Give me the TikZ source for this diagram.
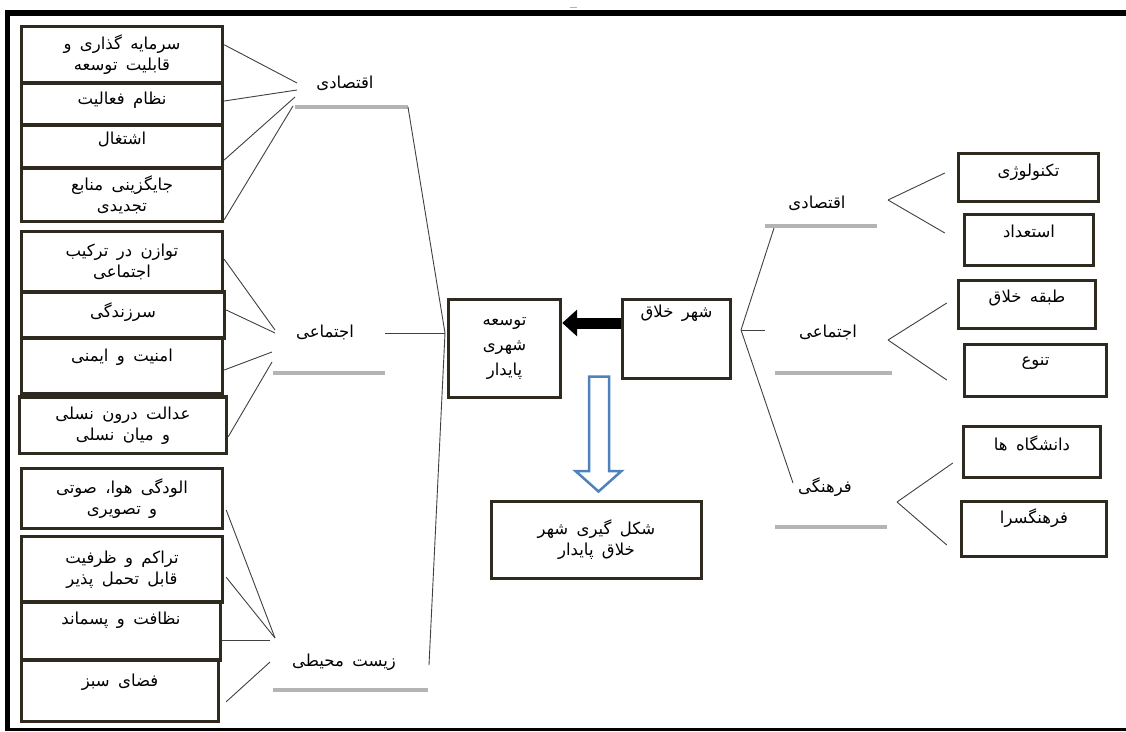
\documentclass[tikz,border=0pt]{standalone}
\usepackage{fontspec}
\newfontfamily\fafont[Script=Arabic,WordSpace=1.6]{DejaVu Sans}
\TeXXeTstate=1
\usetikzlibrary{arrows.meta}
\definecolor{boxline}{HTML}{2E2A20}
\definecolor{bargray}{HTML}{B4B4B4}
\definecolor{arrowblue}{HTML}{4F81BD}
\newcommand{\fatxt}[1]{{\fafont\beginR #1\endR}}
\tikzset{
  box/.style={draw=boxline, line width=3.4pt, fill=white, inner sep=2pt, align=center, font=\fontsize{16.5}{21}\selectfont},
  cat/.style={inner sep=1pt, font=\fontsize{16.5}{19}\selectfont},
  bar/.style={draw=bargray, line width=3.5pt},
  wire/.style={draw=black!75, line width=0.9pt},
}
\begin{document}
\begin{tikzpicture}[x=1pt,y=-1pt]
   \useasboundingbox (0,0) rectangle (1126,731);
   \draw[line width=6pt] (5,13) -- (1126,13);
   \draw[line width=5pt] (7.5,10.5) -- (7.5,731);
   \draw[line width=2.5pt] (5,729.5) -- (1126,729.5);
   \draw[gray!60, line width=1pt] (570,7) -- (577,7);

   % left column
   \node[box, minimum width=201, minimum height=56.5] (inv) at (122,54.75) {\fatxt{سرمایه گذاری و}\\\fatxt{قابلیت توسعه}};
   \node[box, minimum width=201, minimum height=42, text depth=12.5] (act) at (122,104) {\fatxt{نظام فعالیت}};
   \node[box, minimum width=201, minimum height=43, text depth=17.5] (job) at (122,146.5) {\fatxt{اشتغال}};
   \node[box, minimum width=201, minimum height=53.5] (ren) at (122,194.75) {\fatxt{جایگزینی منابع}\\\fatxt{تجدیدی}};
   \node[box, minimum width=201, minimum height=60.5] (bal) at (122,261.75) {\fatxt{توازن در ترکیب}\\\fatxt{اجتماعی}};
   \node[box, minimum width=203, minimum height=46, text depth=10.5] (viv) at (123,315) {\fatxt{سرزندگی}};
   \node[box, minimum width=201, minimum height=56, text depth=22.5] (saf) at (122,366) {\fatxt{امنیت و ایمنی}};
   \node[box, minimum width=207, minimum height=56.5] (jus) at (123,425.25) {\fatxt{عدالت درون نسلی}\\\fatxt{و میان نسلی}};
   \node[box, minimum width=201, minimum height=60] (pol) at (122,498.5) {\fatxt{الودگی هوا، صوتی}\\\fatxt{و تصویری}};
   \node[box, minimum width=201, minimum height=65.5] (den) at (122,569.25) {\fatxt{تراکم و ظرفیت}\\\fatxt{قابل تحمل پذیر}};
   \node[box, minimum width=199, minimum height=58, text depth=26.5] (cln) at (121,631) {\fatxt{نظافت و پسماند}};
   \node[box, minimum width=197, minimum height=61.5, text depth=22] (grn) at (120,690.75) {\fatxt{فضای سبز}};

   \node[cat] (ecoL) at (345,83) {\fatxt{اقتصادی}};
   \node[cat] (socL) at (325,332) {\fatxt{اجتماعی}};
   \node[cat] (envL) at (344,662) {\fatxt{زیست محیطی}};
   \draw[bar] (295,107) -- (408,107) coordinate (ecoLbar);
   \draw[bar] (273,373) -- (385,373);
   \draw[bar] (273,690) -- (428,690);

   \coordinate (eL1) at (297,83); \coordinate (eL2) at (297,90); \coordinate (eL3) at (295,97); \coordinate (eL4) at (293,106);
   \coordinate (sL1) at (275,330); \coordinate (sL2) at (275,333); \coordinate (sL3) at (272,352); \coordinate (sL4) at (272,362);
   \coordinate (vL1) at (275,638); \coordinate (vL2) at (270,640); \coordinate (vL3) at (270,662);
   \draw[wire] ([yshift=10]inv.east) -- (eL1);
   \draw[wire] ([yshift=3]act.east) -- (eL2);
   \draw[wire] ([yshift=-13.5]job.east) -- (eL3);
   \draw[wire] ([yshift=-25]ren.east) -- (eL4);
   \draw[wire] ([yshift=2.5]bal.east) -- (sL1);
   \draw[wire] ([yshift=5]viv.east) -- (sL2);
   \draw[wire] ([yshift=-4]saf.east) -- (sL3);
   \draw[wire] ([yshift=-11.5]jus.east) -- (sL4);
   \draw[wire] ([xshift=2,yshift=-11.5]pol.east) -- (vL1);
   \draw[wire] ([xshift=2,yshift=-8]den.east) -- (vL1);
   \draw[wire] ([yshift=-9]cln.east) -- (vL2);
   \draw[wire] ([xshift=6,yshift=-11]grn.east) -- (vL3);

   % centre
   \node[box, minimum width=112, minimum height=98] (tp) at (504.5,348.5) {\fatxt{توسعه}\\[4pt]\fatxt{شهری}\\[4pt]\fatxt{پایدار}};
   \node[box, minimum width=108, minimum height=79, text depth=56] (kh) at (676.5,339) {\fatxt{شهر خلاق}};
   \node[box, minimum width=210, minimum height=77] (goal) at (596.5,540) {\fatxt{شکل گیری شهر}\\\fatxt{خلاق پایدار}};
   \draw[line width=11pt, -{Triangle[length=15pt,width=26pt]}] ([yshift=16]kh.west) -- ([yshift=25.5]tp.east);
   \draw[arrowblue, line width=2.5pt, fill=white] (589,376.5) -- (609,376.5) -- (609,471) -- (621.5,471) -- (598.5,491.5) -- (575.5,471) -- (589,471) -- cycle;

   \coordinate (jL) at (445,333);
   \coordinate (socLend) at (385,333);
   \coordinate (envLend) at (429,665);
   \draw[wire] (jL) -- (ecoLbar);
   \draw[wire] (jL) -- (socLend);
   \draw[wire] (jL) -- (envLend);

   % right column
   \node[cat] (ecoR) at (817,203) {\fatxt{اقتصادی}};
   \node[cat] (socR) at (828,332) {\fatxt{اجتماعی}};
   \node[cat] (culR) at (825,487) {\fatxt{فرهنگی}};
   \draw[bar] (765,226) -- (877,226);
   \draw[bar] (775,373) -- (892,373);
   \draw[bar] (775,527) -- (887,527);

   \node[box, minimum width=140, minimum height=48, text depth=15.5] (tech) at (1028.5,177.5) {\fatxt{تکنولوژی}};
   \node[box, minimum width=129, minimum height=51, text depth=18.5] (tal) at (1029,240) {\fatxt{استعداد}};
   \node[box, minimum width=137, minimum height=48, text depth=17.5] (cls) at (1027,304.5) {\fatxt{طبقه خلاق}};
   \node[box, minimum width=142, minimum height=52, text depth=19.5] (div) at (1035.5,370.5) {\fatxt{تنوع}};
   \node[box, minimum width=137, minimum height=51, text depth=18.5] (uni) at (1032,452) {\fatxt{دانشگاه ها}};
   \node[box, minimum width=145, minimum height=55, text depth=26.5] (fsara) at (1034,529) {\fatxt{فرهنگسرا}};

   \coordinate (jR) at (741,330);
   \coordinate (ecoRend) at (774,228);
   \coordinate (socRend) at (765,330);
   \coordinate (culRend) at (793,483);
   \draw[wire] (jR) -- (ecoRend);
   \draw[wire] (jR) -- (socRend);
   \draw[wire] (jR) -- (culRend);

   \coordinate (fkEco) at (888,200);
   \coordinate (fkSoc) at (888,340);
   \coordinate (fkCul) at (897,502);
   \draw[wire] (fkEco) -- ([xshift=-12,yshift=4.5]tech.west);
   \draw[wire] (fkEco) -- ([xshift=-18,yshift=7]tal.west);
   \draw[wire] (fkSoc) -- ([xshift=-10,yshift=1.5]cls.west);
   \draw[wire] (fkSoc) -- ([xshift=-16,yshift=-9.5]div.west);
   \draw[wire] (fkCul) -- ([xshift=-9,yshift=-11]uni.west);
   \draw[wire] (fkCul) -- ([xshift=-13,yshift=-16]fsara.west);
\end{tikzpicture}
\end{document}
